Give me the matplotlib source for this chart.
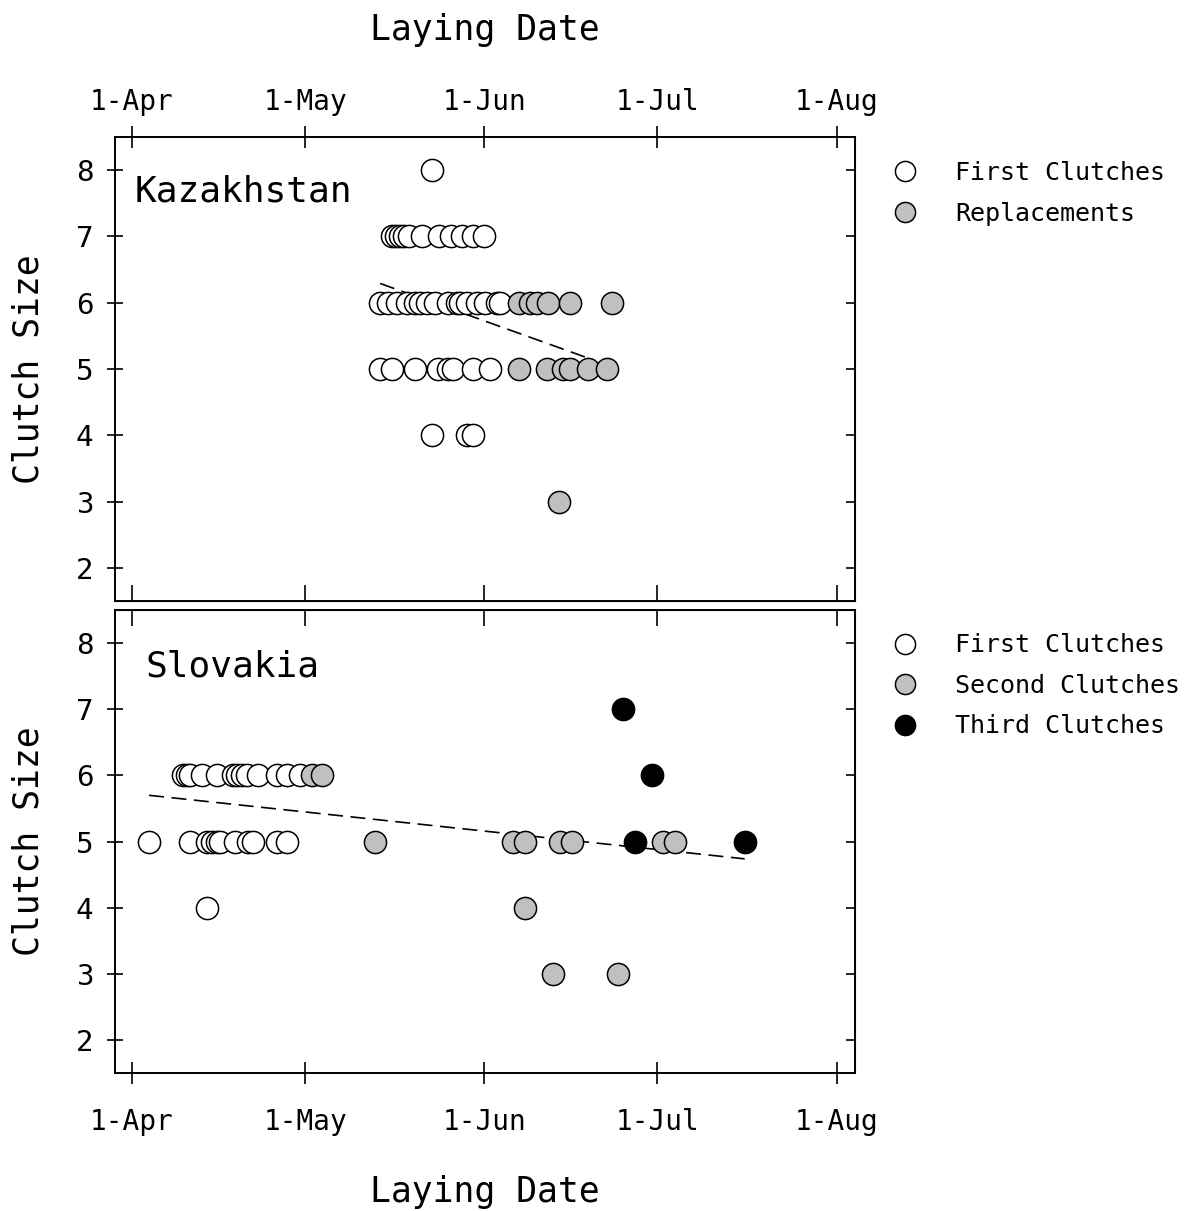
import matplotlib
matplotlib.use("Agg")
import matplotlib.pyplot as plt
from matplotlib.lines import Line2D

plt.rcParams['font.family'] = ['DejaVu Sans Mono', 'DejaVu Sans']

# laying dates as days after 1 April, clutch sizes as integers
kz_first_day = [52,
                45.0, 45.7, 46.4, 47.1, 48.0, 50.2, 53.2, 55.2, 57.1, 59.0, 61.0,
                43.0, 44.3, 45.9, 47.6, 49.0, 49.9, 51.1, 52.5, 54.7, 56.3, 56.8,
                58.0, 59.7, 61.1, 63.2, 63.7,
                43.0, 45.0, 49.0, 53.0, 54.7, 55.6, 59.0, 62.0,
                51.9, 58.0, 59.1]
kz_first_size = [8,
                 7, 7, 7, 7, 7, 7, 7, 7, 7, 7, 7,
                 6, 6, 6, 6, 6, 6, 6, 6, 6, 6, 6,
                 6, 6, 6, 6, 6,
                 5, 5, 5, 5, 5, 5, 5, 5,
                 4, 4, 4]
kz_repl_day = [67.0, 68.9, 70.1, 72.0, 75.8, 83.1,
               67.0, 71.8, 74.7, 75.8, 79.0, 82.2,
               73.9]
kz_repl_size = [6, 6, 6, 6, 6, 6,
                5, 5, 5, 5, 5, 5,
                3]
kz_trend_day = [43.0, 80.1]
kz_trend_size = [6.29, 5.13]

sk_first_day = [8.9, 9.6, 10.1, 12.2, 14.8, 17.5, 18.2, 19.1, 19.9, 21.8, 25.1, 26.9, 29.1,
                3.0, 10.1, 13.0, 13.9, 14.8, 15.3, 17.9, 20.1, 21.0, 25.1, 26.9,
                13.0]
sk_first_size = [6, 6, 6, 6, 6, 6, 6, 6, 6, 6, 6, 6, 6,
                 5, 5, 5, 5, 5, 5, 5, 5, 5, 5, 5,
                 4]
sk_second_day = [31.2, 32.9, 42.1, 66.0, 68.0, 74.1, 76.2, 91.9, 94.0, 68.0, 73.0, 84.1]
sk_second_size = [6, 6, 5, 5, 5, 5, 5, 5, 5, 4, 3, 3]
sk_third_day = [85.0, 90.0, 87.1, 106.1]
sk_third_size = [7, 6, 5, 5]
sk_trend_day = [3.0, 106.1]
sk_trend_size = [5.70, 4.74]

tick_days = [0, 30, 61, 91, 122]
tick_labels = ['1-Apr', '1-May', '1-Jun', '1-Jul', '1-Aug']
size_ticks = [2, 3, 4, 5, 6, 7, 8]

GREY = '#c0c0c0'
MS = 255
EW = 1.1


def dots(ax, x, y, color):
    ax.scatter(x, y, s=MS, facecolor=color, edgecolor='black', linewidth=EW, zorder=3)


def frame(ax, labels_on_top):
    ax.set_xlim(-2.9, 125.2)
    ax.set_ylim(1.5, 8.5)
    ax.set_yticks(size_ticks)
    ax.set_xticks(tick_days)
    ax.set_xticklabels(tick_labels)
    for sp in ax.spines.values():
        sp.set_linewidth(1.4)
    ax.tick_params(axis='y', left=True, right=False, direction='inout', length=11.5,
                   width=1.2, labelsize=21, pad=10)
    ax.set_ylabel('Clutch Size', fontsize=25, labelpad=22)
    right = ax.secondary_yaxis('right')
    right.set_yticks(size_ticks)
    right.tick_params(direction='in', length=6.5, width=1.2, labelright=False)
    if labels_on_top:
        ax.xaxis.tick_top()
        ax.xaxis.set_label_position('top')
        other = ax.secondary_xaxis('bottom')
        other.tick_params(direction='in', length=11.5, width=1.2, labelbottom=False)
        ax.tick_params(axis='x', direction='inout', length=16, width=1.2,
                       labelsize=20, pad=7)
        ax.set_xlabel('Laying Date', fontsize=25, labelpad=35)
    else:
        ax.xaxis.tick_bottom()
        other = ax.secondary_xaxis('top')
        other.tick_params(direction='in', length=11.5, width=1.2, labeltop=False)
        ax.tick_params(axis='x', direction='inout', length=16, width=1.2,
                       labelsize=20, pad=17)
        ax.set_xlabel('Laying Date', fontsize=25, labelpad=28)
    other.set_xticks(tick_days)


def key(ax, entries, anchor_y):
    handles = [Line2D([], [], linestyle='none', marker='o', markersize=14.5,
                      markerfacecolor=c, markeredgecolor='black', markeredgewidth=EW)
               for c, _ in entries]
    ax.legend(handles, [t for _, t in entries], loc='upper left',
              bbox_to_anchor=(0.752, anchor_y), bbox_transform=ax.figure.transFigure,
              frameon=False, fontsize=18, borderpad=0, borderaxespad=0,
              handlelength=1.0, handletextpad=1.5, labelspacing=0.66)


fig = plt.figure(figsize=(11.87, 12.11), dpi=100)
ax_kz = fig.add_axes([0.0969, 0.5037, 0.6234, 0.3832])
ax_sk = fig.add_axes([0.0969, 0.1137, 0.6234, 0.3826])

# Kazakhstan
ax_kz.plot(kz_trend_day, kz_trend_size, color='black', linewidth=1.2,
           linestyle=(0, (9, 4.5)), zorder=2)
dots(ax_kz, kz_first_day, kz_first_size, 'white')
dots(ax_kz, kz_repl_day, kz_repl_size, GREY)
ax_kz.text(0.026, 0.882, 'Kazakhstan', transform=ax_kz.transAxes, fontsize=26,
           va='center', ha='left')
frame(ax_kz, True)
key(ax_kz, [('white', 'First Clutches'), (GREY, 'Replacements')], 0.867)

# Slovakia
ax_sk.plot(sk_trend_day, sk_trend_size, color='black', linewidth=1.2,
           linestyle=(0, (9, 4.5)), zorder=2)
dots(ax_sk, sk_first_day, sk_first_size, 'white')
dots(ax_sk, sk_second_day, sk_second_size, GREY)
dots(ax_sk, sk_third_day, sk_third_size, 'black')
ax_sk.text(0.041, 0.879, 'Slovakia', transform=ax_sk.transAxes, fontsize=26,
           va='center', ha='left')
frame(ax_sk, False)
key(ax_sk, [('white', 'First Clutches'), (GREY, 'Second Clutches'),
            ('black', 'Third Clutches')], 0.477)

fig.savefig('out.png', dpi=100)
